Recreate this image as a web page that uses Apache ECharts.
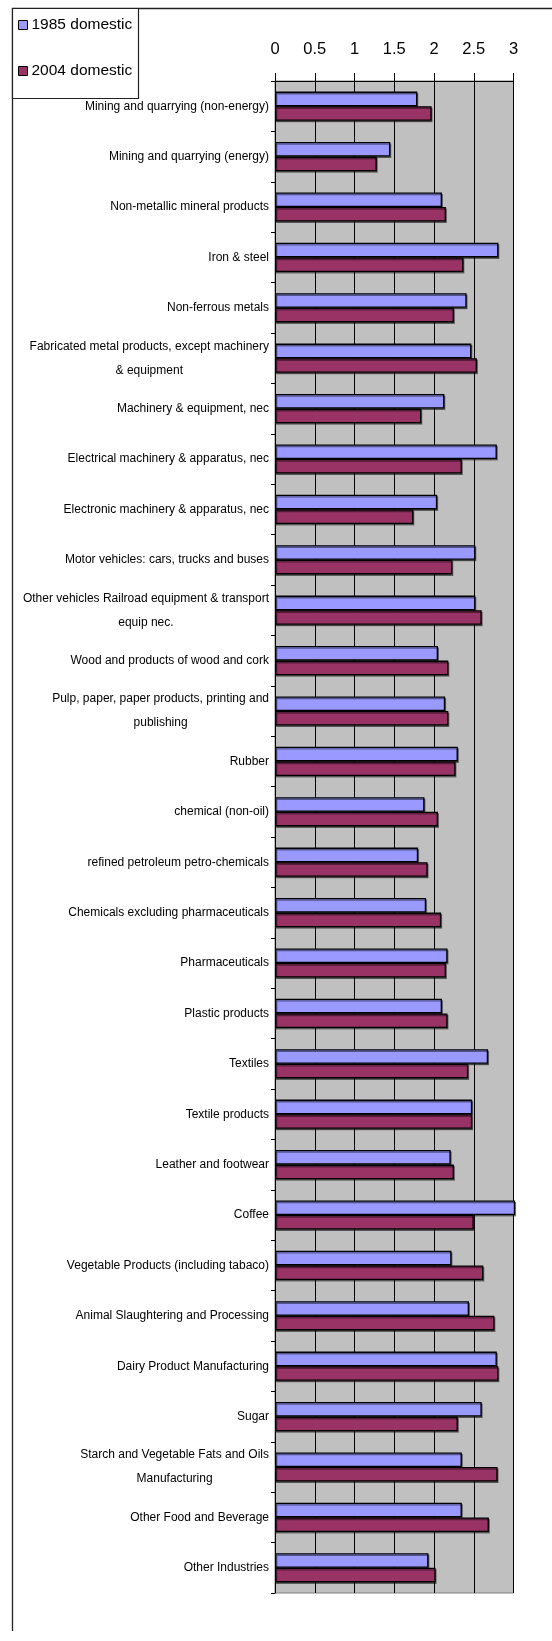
<!DOCTYPE html>
<html>
<head>
<meta charset="utf-8">
<title>Domestic multipliers by industry, 1985 vs 2004</title>
<script src="https://cdn.jsdelivr.net/npm/echarts@6/dist/echarts.min.js"></script>
<style>
  html, body { margin: 0; padding: 0; background: #ffffff; }
  #chart { width: 552px; height: 1641px; }
</style>
</head>
<body>
<div id="chart"></div>
<script>
// Industry names (top to bottom)
const categories = [
  'Mining and quarrying (non-energy)',
  'Mining and quarrying (energy)',
  'Non-metallic mineral products',
  'Iron & steel',
  'Non-ferrous metals',
  'Fabricated metal products, except machinery\n& equipment',
  'Machinery & equipment, nec',
  'Electrical machinery & apparatus, nec',
  'Electronic machinery & apparatus, nec',
  'Motor vehicles: cars, trucks and buses',
  'Other vehicles Railroad equipment & transport\nequip nec.',
  'Wood and products of wood and cork',
  'Pulp, paper, paper products, printing and\npublishing',
  'Rubber',
  'chemical (non-oil)',
  'refined petroleum petro-chemicals',
  'Chemicals excluding pharmaceuticals',
  'Pharmaceuticals',
  'Plastic products',
  'Textiles',
  'Textile products',
  'Leather and footwear',
  'Coffee',
  'Vegetable Products (including tabaco)',
  'Animal Slaughtering and Processing',
  'Dairy Product Manufacturing',
  'Sugar',
  'Starch and Vegetable Fats and Oils\nManufacturing',
  'Other Food and Beverage',
  'Other Industries'
];

// Series values
const domestic1985 = [
  1.79, 1.45, 2.10, 2.81, 2.41, 2.47, 2.13, 2.79, 2.04, 2.52,
  2.52, 2.05, 2.14, 2.30, 1.88, 1.80, 1.90, 2.17, 2.10, 2.68,
  2.48, 2.21, 3.02, 2.22, 2.44, 2.79, 2.60, 2.35, 2.35, 1.93
];
const domestic2004 = [
  1.97, 1.28, 2.15, 2.37, 2.25, 2.54, 1.84, 2.35, 1.74, 2.23,
  2.60, 2.18, 2.18, 2.27, 2.05, 1.92, 2.09, 2.15, 2.17, 2.43,
  2.48, 2.25, 2.50, 2.62, 2.76, 2.81, 2.30, 2.80, 2.69, 2.02
];

const seriesNames = ['1985 domestic', '2004 domestic'];

const FONT = '"Liberation Sans", Arial, sans-serif';

const chart = echarts.init(document.getElementById('chart'), null, { renderer: 'canvas' });

const barShadow = {
  shadowColor: 'rgba(0,0,0,0.45)',
  shadowOffsetX: 1,
  shadowOffsetY: 1.5,
  shadowBlur: 0
};

chart.setOption({
  backgroundColor: '#ffffff',
  animation: false,
  graphic: [
    // outer frame (left and top edges)
    {
      type: 'polyline',
      shape: { points: [[12.5, 1631], [12.5, 8.5], [560, 8.5]] },
      style: { stroke: '#222', lineWidth: 1.3, fill: null },
      z: 0
    },
    // legend box
    {
      type: 'rect',
      shape: { x: 12.5, y: 8.5, width: 126, height: 90 },
      style: { stroke: '#222', lineWidth: 1.2, fill: '#ffffff' },
      z: 1
    }
  ],
  legend: {
    orient: 'vertical',
    left: 18,
    top: 15,
    padding: 0,
    itemWidth: 9,
    itemHeight: 9,
    itemGap: 26,
    icon: 'rect',
    itemStyle: { borderColor: '#000', borderWidth: 1, shadowColor: 'transparent' },
    textStyle: {
      fontFamily: FONT,
      fontSize: 15.5,
      color: '#000',
      lineHeight: 20,
      padding: [0, 0, 0, -1]
    },
    data: seriesNames,
    z: 5
  },
  grid: {
    left: 275,
    top: 81,
    right: 38.5,
    bottom: 48,
    outerBoundsMode: 'none',
    containLabel: false,
    show: true,
    backgroundColor: '#c0c0c0',
    borderColor: '#808080',
    borderWidth: 1
  },
  xAxis: {
    type: 'value',
    position: 'top',
    min: 0,
    max: 3,
    interval: 0.5,
    axisLine: { show: true, lineStyle: { color: '#000', width: 1 } },
    axisTick: { show: true, inside: false, length: 8, lineStyle: { color: '#000', width: 1 } },
    splitLine: { show: true, lineStyle: { color: '#000', width: 1 } },
    axisLabel: {
      fontFamily: FONT,
      fontSize: 16.5,
      color: '#000',
      margin: 32,
      verticalAlign: 'middle'
    }
  },
  yAxis: {
    type: 'category',
    inverse: true,
    data: categories,
    axisLine: { show: true, lineStyle: { color: '#000', width: 1 } },
    axisTick: { show: true, inside: false, length: 4, lineStyle: { color: '#000', width: 1 } },
    splitLine: { show: false },
    axisLabel: {
      margin: 6,
      interval: 0,
      align: 'right',
      formatter: function (v) {
        return v.split('\n').map(function (line) { return '{c|' + line + '}'; }).join('\n');
      },
      rich: {
        c: {
          align: 'center',
          fontFamily: FONT,
          fontSize: 12,
          lineHeight: 24,
          color: '#000'
        }
      }
    }
  },
  series: [
    {
      name: seriesNames[0],
      type: 'bar',
      data: domestic1985,
      barGap: '0%',
      barCategoryGap: '42%',
      clip: false,
      itemStyle: Object.assign({ color: '#9999ff', borderColor: '#000', borderWidth: 1.3 }, barShadow)
    },
    {
      name: seriesNames[1],
      type: 'bar',
      data: domestic2004,
      barGap: '0%',
      barCategoryGap: '42%',
      clip: false,
      itemStyle: Object.assign({ color: '#993366', borderColor: '#000', borderWidth: 1.3 }, barShadow)
    }
  ]
});
</script>
</body>
</html>
